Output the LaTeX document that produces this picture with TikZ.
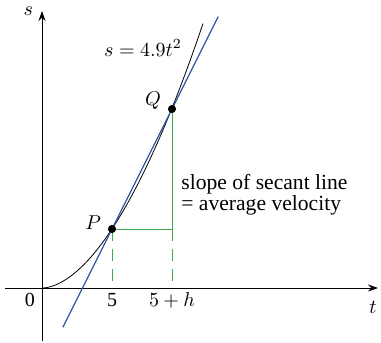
\documentclass[tikz,border=0pt]{standalone}
\usepackage{fontspec}
\setmainfont{Liberation Serif}
\usepackage{tikz}
\usetikzlibrary{positioning, calc, arrows.meta}

\definecolor{secblue}{RGB}{45,90,160}
\definecolor{rungreen}{RGB}{60,170,80}

\begin{document}
\begin{tikzpicture}[x=0.5pt, y=0.5pt, >={Stealth[length=5pt,width=3.5pt]}]
    \useasboundingbox (0,0) rectangle (381,343);

    % Axes
    \coordinate (O) at (42,55);
    \coordinate (Xend) at (378,55);
    \coordinate (Ytop) at (42,332);
    \draw[->, thin] (5,55) -- (Xend);
    \draw[->, thin] (42,2) -- (Ytop);
    \node[left=1pt] (slab) at (Ytop) {$s$};
    \node[below=3pt] (tlab) at (373,55) {$t$};
    \node (zero) at (30,43) {0};

    % Coordinates
    \coordinate (P) at (112,114);
    \coordinate (Q) at (172,234);
    \coordinate (R) at (172,114);
    \coordinate (Pt) at (112,55);
    \coordinate (Rt) at (172,55);

    % Curve s = 4.9t^2
    \draw[thin, domain=0:161, samples=80] plot ({42+\x},{55+0.02818*\x^1.8});
    \node (curvelab) at (143,295) {$s = 4.9t^2$};

    % Secant line
    \draw[semithick, secblue] ($(P)!-0.82!(Q)$) -- ($(Q)!-0.77!(P)$);

    % Rise and run
    \draw[rungreen, thin] (P) -- (R) -- (Q);
    \draw[rungreen, thin, dashed, dash pattern=on 6pt off 4pt] (P) -- (Pt);
    \draw[rungreen, thin, dashed, dash pattern=on 6pt off 4pt] (R) -- (Rt);
    \node (five) at (112,43) {5};
    \node (fiveh) at (172,43) {$5 + h$};

    % Points
    \filldraw (P) circle (1.8pt) node[left=2pt, yshift=3pt] {$P$};
    \filldraw (Q) circle (1.8pt) node[left=2pt, yshift=4pt] {$Q$};

    % Label
    \node[align=left, anchor=west, inner sep=0pt, font=\fontsize{10.8}{10.5}\selectfont] (slope) at (181,148)
        {slope of secant line\\= average velocity};
\end{tikzpicture}
\end{document}
